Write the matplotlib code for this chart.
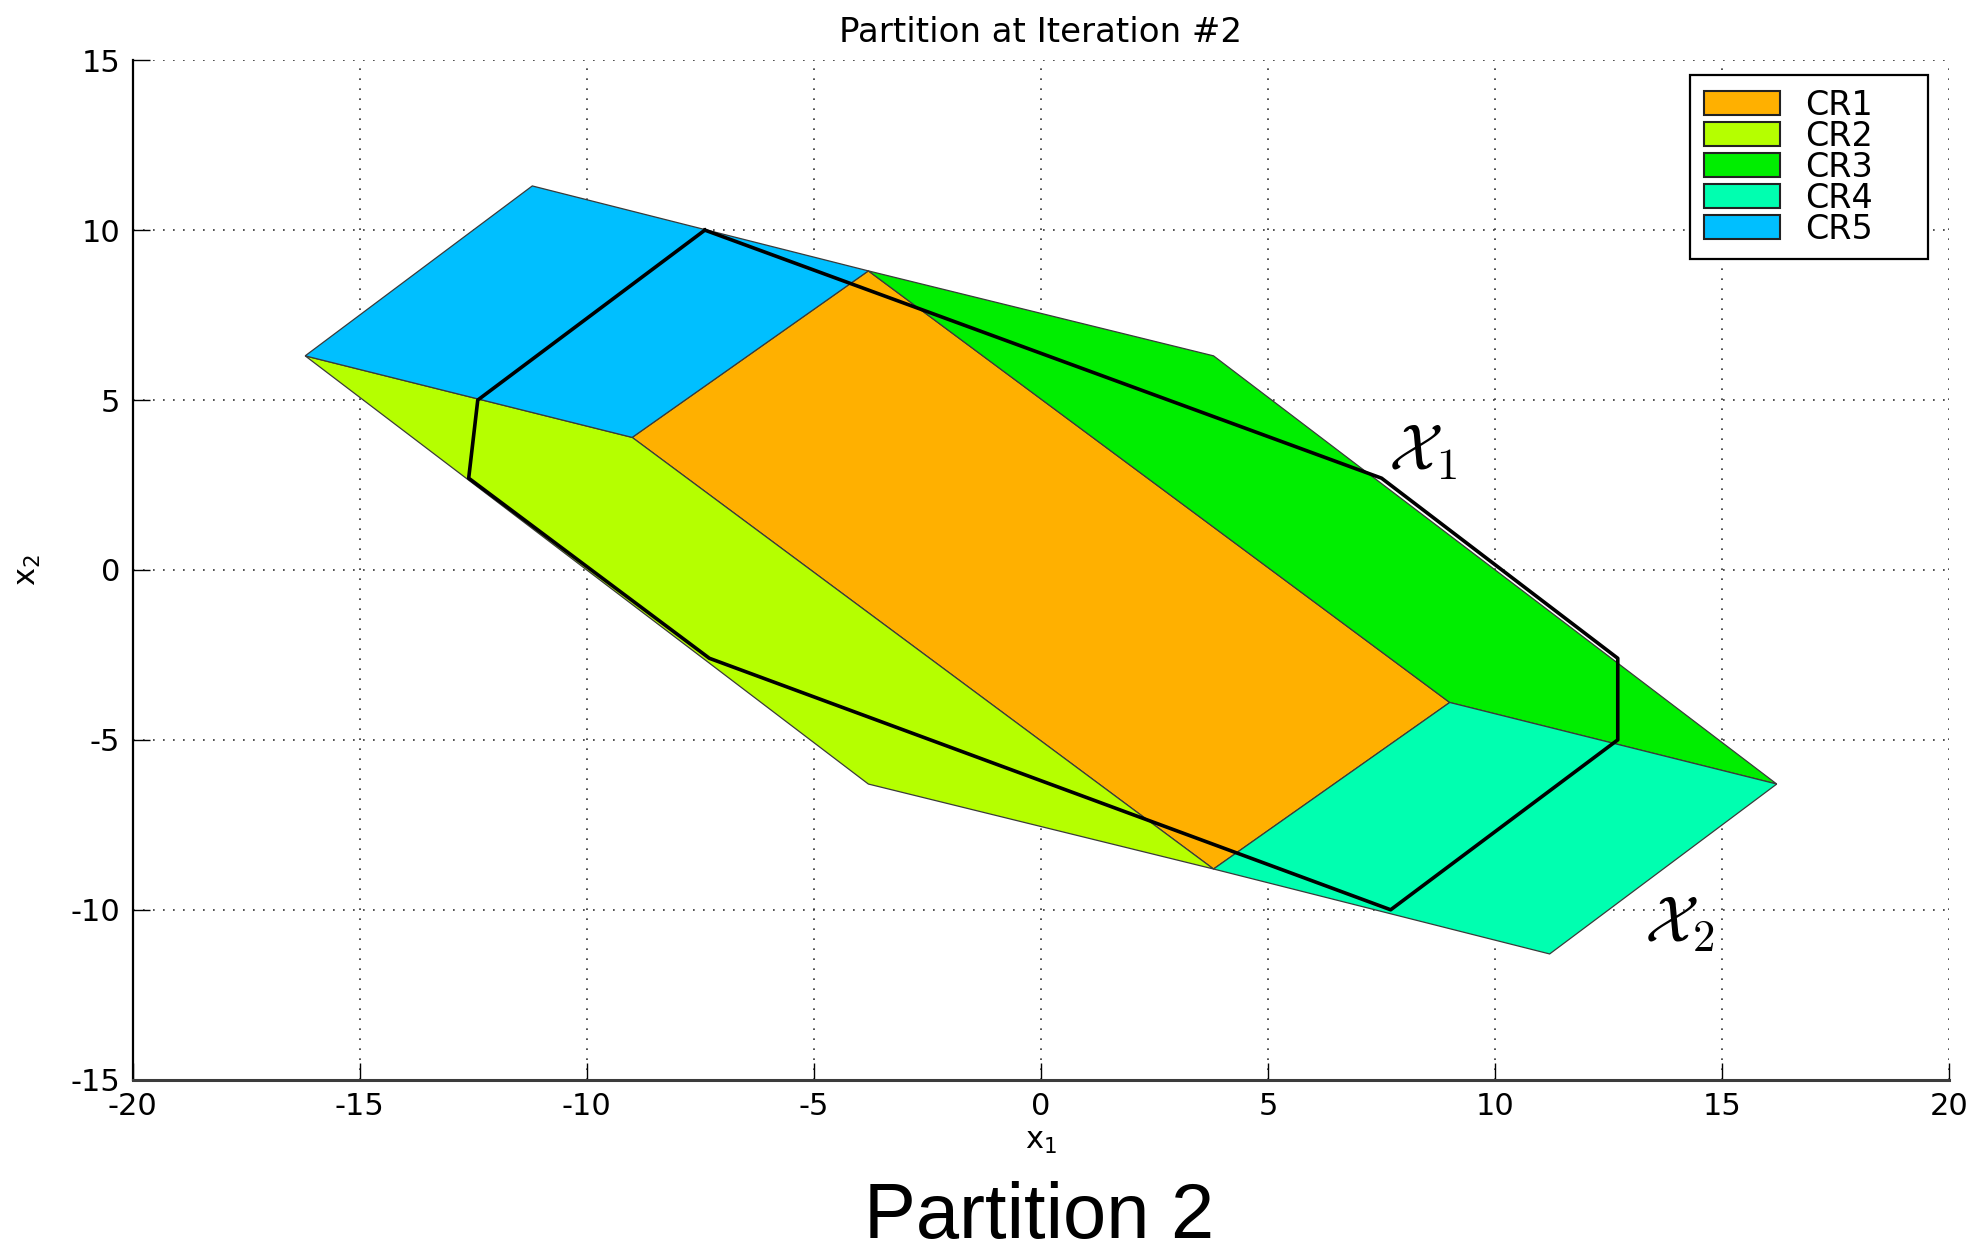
import matplotlib
matplotlib.use('Agg')
import matplotlib.pyplot as plt
from matplotlib.patches import Polygon, Patch

plt.rcParams['mathtext.fontset'] = 'cm'

# ---- data ----
region_names = ['CR1', 'CR2', 'CR3', 'CR4', 'CR5']
cr1_x = [-9.0, -3.8, 9.0, 3.8]
cr1_y = [3.9, 8.8, -3.9, -8.8]
cr2_x = [-16.2, -9.0, 3.8, -3.8]
cr2_y = [6.3, 3.9, -8.8, -6.3]
cr3_x = [16.2, 9.0, -3.8, 3.8]
cr3_y = [-6.3, -3.9, 8.8, 6.3]
cr4_x = [16.2, 11.2, 3.8, 9.0]
cr4_y = [-6.3, -11.3, -8.8, -3.9]
cr5_x = [-16.2, -11.2, -3.8, -9.0]
cr5_y = [6.3, 11.3, 8.8, 3.9]
region_colors = ['#FFB000', '#B5FF00', '#00EE00', '#00FFB0', '#00BFFF']

bound_x = [-7.4, 7.5, 12.7, 12.7, 7.7, -7.3, -12.6, -12.4, -7.4]
bound_y = [10.0, 2.7, -2.6, -5.0, -10.0, -2.6, 2.7, 5.0, 10.0]

xticks = [-20, -15, -10, -5, 0, 5, 10, 15, 20]
yticks = [-15, -10, -5, 0, 5, 10, 15]

# ---- figure ----
fig = plt.figure(figsize=(19.79, 12.54), dpi=100)
ax = fig.add_axes([0.067, 0.139, 0.918, 0.813])
ax.set_xlim(-20, 20)
ax.set_ylim(-15, 15)
ax.set_axisbelow(True)

regions = [(cr1_x, cr1_y), (cr2_x, cr2_y), (cr3_x, cr3_y), (cr4_x, cr4_y), (cr5_x, cr5_y)]
handles = []
for (xs, ys), col, name in zip(regions, region_colors, region_names):
    ax.add_patch(Polygon(list(zip(xs, ys)), closed=True, facecolor=col,
                         edgecolor='#3a3a3a', linewidth=0.9, zorder=2))
    handles.append(Patch(facecolor=col, edgecolor='#222222', linewidth=1.5, label=name))

ax.plot(bound_x, bound_y, color='black', linewidth=2.6, zorder=3)

ax.text(8.4, 3.5, r'$\mathcal{X}_1$', fontsize=46, ha='center', va='center', zorder=4)
ax.text(14.05, -10.4, r'$\mathcal{X}_2$', fontsize=46, ha='center', va='center', zorder=4)

ax.set_xticks(xticks)
ax.set_yticks(yticks)
ax.set_xticklabels([str(v) for v in xticks])
ax.set_yticklabels([str(v) for v in yticks])
ax.grid(True, color='#333333', linestyle=(0, (1, 5)), linewidth=1.2)
ax.tick_params(direction='in', length=12, width=1, labelsize=22, pad=9,
               top=False, right=False)
for s in ['top', 'right']:
    ax.spines[s].set_visible(False)
ax.spines['left'].set_linewidth(1.6)
ax.spines['left'].set_color('black')
ax.spines['bottom'].set_linewidth(2.2)
ax.spines['bottom'].set_color('#3c3c3c')

ax.set_title('Partition at Iteration #2', fontsize=24.5, pad=13)
ax.set_xlabel(r'$\mathregular{x_1}$', fontsize=22, labelpad=4)
ax.set_ylabel(r'$\mathregular{x_2}$', fontsize=22, labelpad=20)

leg = ax.legend(handles=handles, loc='upper left',
                bbox_to_anchor=(0.8575, 0.985, 0.1305, 0.0), mode='expand',
                borderaxespad=0, fontsize=24, handlelength=2.3, handleheight=0.75,
                handletextpad=0.75, labelspacing=-0.06, borderpad=0.4,
                fancybox=False, framealpha=1, edgecolor='black')
leg.get_frame().set_linewidth(1.6)

fig.text(0.525, 0.0, 'Partition 2', fontsize=56, family='Liberation Sans',
         ha='center', va='bottom')

fig.savefig('out.png', dpi=100, facecolor='white')
